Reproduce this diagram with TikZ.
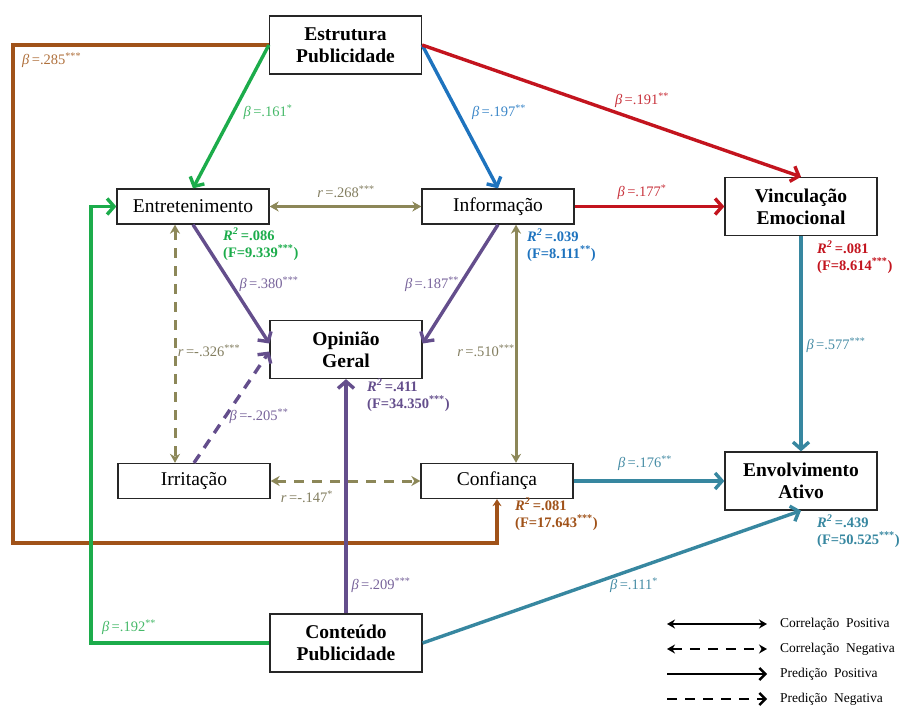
\documentclass[tikz,border=0pt]{standalone}
\usepackage{fontspec}
\setmainfont{Liberation Serif}
\usetikzlibrary{arrows.meta,calc}
\definecolor{cbrown}{RGB}{160,82,25}
\definecolor{lbrown}{RGB}{175,112,60}
\definecolor{cgreen}{RGB}{28,172,75}
\definecolor{lgreen}{RGB}{70,185,105}
\definecolor{cblue}{RGB}{30,115,190}
\definecolor{lblue}{RGB}{60,135,200}
\definecolor{cred}{RGB}{195,20,30}
\definecolor{lred}{RGB}{200,50,60}
\definecolor{colive}{RGB}{140,135,88}
\definecolor{lolive}{RGB}{130,125,95}
\definecolor{cpurple}{RGB}{100,78,140}
\definecolor{lpurple}{RGB}{120,100,155}
\definecolor{cteal}{RGB}{55,135,160}
\definecolor{lteal}{RGB}{70,140,165}
\newcommand\betalab[2]{\textit{β}\,=#1\textsuperscript{#2}}
\newcommand\rlab[2]{\textit{r}\,=#1\textsuperscript{#2}}
\newcommand\rsqlab[3]{\textbf{\textit{R\textsuperscript{2}}\,=.#1}\\\textbf{(F=#2\textsuperscript{#3})}}
\begin{document}
\begin{tikzpicture}[x=1pt,y=-1pt,
  box/.style={draw=black!85, line width=1.3pt, fill=white, minimum width=152pt, inner sep=0pt, align=center},
  tbox/.style={box, minimum height=58pt, font=\fontsize{19.5}{22}\selectfont\bfseries},
  sbox/.style={box, minimum height=35pt, font=\fontsize{19.5}{22}\selectfont},
  pred/.style={line width=3.4pt, -{Straight Barb[length=7pt,width=16pt]}},
  corr/.style={line width=3pt, {Stealth[length=9pt,width=10pt]}-{Stealth[length=9pt,width=10pt]}},
  dsh/.style={dash pattern=on 10pt off 8pt},
  lab/.style={font=\fontsize{14.5}{16}\selectfont, inner sep=0pt},
  rsq/.style={font=\fontsize{14.5}{17}\selectfont, inner sep=0pt, align=left, anchor=north west},
  leg/.style={font=\fontsize{13.5}{16}\selectfont, inner sep=0pt, anchor=west},
]
\useasboundingbox (0,0) rectangle (900,706);

% nodes
\node[tbox] (estr) at (345.5,45) {Estrutura\\Publicidade};
\node[sbox] (ent)  at (193,206.5) {Entretenimento};
\node[sbox] (info) at (498,206.5) {Informação};
\node[tbox] (vinc) at (801,206.5) {Vinculação\\Emocional};
\node[tbox] (op)   at (346,349.5) {Opinião\\Geral};
\node[sbox] (irr)  at (194,481) {Irritação};
\node[sbox] (conf) at (497,481) {Confiança};
\node[tbox] (env)  at (801,481) {Envolvimento\\Ativo};
\node[tbox] (cont) at (346,643) {Conteúdo\\Publicidade};

\coordinate (bl1) at (13,45);
\coordinate (bl2) at (13,543);
\coordinate (gx) at (91,643);

% brown
\draw[line width=3.4pt, cbrown, -{Stealth[length=7pt,width=9pt]}] (estr.west) -- (bl1) -- (bl2) -| (conf.south);
\node[lab, lbrown, anchor=west] (l285) at (22,60) {\betalab{.285}{***}};

% green
\draw[pred, cgreen] (estr.west) -- (ent.north);
\node[lab, lgreen] (l161) at (268,112) {\betalab{.161}{*}};
\draw[pred, cgreen] (cont.west) -- (gx) |- (ent.west);
\node[lab, lgreen] (l192) at (129,627) {\betalab{.192}{**}};

% blue
\draw[pred, cblue] (estr.east) -- (info.north);
\node[lab, lblue] (l197) at (499,112) {\betalab{.197}{**}};

% red
\draw[pred, cred] (estr.east) -- (vinc.north);
\node[lab, lred] (l191) at (642,100) {\betalab{.191}{**}};
\draw[pred, cred] (info.east) -- (vinc.west);
\node[lab, lred] (l177) at (642,192) {\betalab{.177}{*}};

% olive correlations
\draw[corr, colive] (ent.east) -- (info.west);
\node[lab, lolive] (l268) at (346,192) {\rlab{.268}{***}};
\draw[corr, colive, dsh] ([xshift=-18pt]ent.south) -- ([xshift=-18pt]ent.south |- irr.north);
\node[lab, lolive] (l326) at (209,351) {\rlab{-.326}{***}};
\draw[corr, colive] ([xshift=18pt]info.south) -- ([xshift=18pt]info.south |- conf.north);
\node[lab, lolive] (l510) at (486,351) {\rlab{.510}{***}};
\draw[corr, colive, dsh] (irr.east) -- (conf.west);
\node[lab, lolive] (l147) at (307,497) {\rlab{-.147}{*}};

% purple
\draw[pred, cpurple] (ent.south) -- ([yshift=6pt]op.west);
\node[lab, lpurple] (l380) at (269,284) {\betalab{.380}{***}};
\draw[pred, cpurple] (info.south) -- ([yshift=6pt]op.east);
\node[lab, lpurple] (l187) at (432,284) {\betalab{.187}{**}};
\draw[pred, cpurple, dsh] (irr.north) -- ([yshift=-2pt]op.west);
\node[lab, lpurple] (l205) at (259,416) {\betalab{-.205}{**}};
\draw[pred, cpurple] (cont.north) -- (op.south);
\node[lab, lpurple] (l209) at (381,585) {\betalab{.209}{***}};

% teal
\draw[pred, cteal] (vinc.south) -- (env.north);
\node[lab, lteal] (l577) at (836,345) {\betalab{.577}{***}};
\draw[pred, cteal] (conf.east) -- (env.west);
\node[lab, lteal] (l176) at (645,463) {\betalab{.176}{**}};
\draw[pred, cteal] (cont.east) -- (env.south);
\node[lab, lteal] (l111) at (634,585) {\betalab{.111}{*}};

% R^2 labels
\node[rsq, cgreen] (rent) at (223,228) {\rsqlab{086}{9.339}{***}};
\node[rsq, cblue] (rinfo) at (527,229) {\rsqlab{039}{8.111}{**}};
\node[rsq, cred] (rvinc) at (817,241) {\rsqlab{081}{8.614}{***}};
\node[rsq, cpurple] (rop) at (367,379) {\rsqlab{411}{34.350}{***}};
\node[rsq, cbrown] (rconf) at (515,498) {\rsqlab{081}{17.643}{***}};
\node[rsq, cteal] (renv) at (817,515) {\rsqlab{439}{50.525}{***}};

% legend
\coordinate (a1) at (667,624); \coordinate (b1) at (767,624);
\coordinate (a2) at (667,649); \coordinate (b2) at (767,649);
\coordinate (a3) at (667,674); \coordinate (b3) at (767,674);
\coordinate (a4) at (667,699); \coordinate (b4) at (767,699);
\draw[line width=2.4pt, {Stealth[length=8pt,width=9pt]}-{Stealth[length=8pt,width=9pt]}] (a1) -- (b1);
\draw[line width=2.4pt, dsh, {Stealth[length=8pt,width=9pt]}-{Stealth[length=8pt,width=9pt]}] (a2) -- (b2);
\draw[line width=2.4pt, -{Straight Barb[length=6pt,width=12pt]}] (a3) -- (b3);
\draw[line width=2.4pt, dsh, -{Straight Barb[length=6pt,width=12pt]}] (a4) -- (b4);
\node[leg] (t1) at (780,624) {Correlação\ \ Positiva};
\node[leg] (t2) at (780,649) {Correlação\ \ Negativa};
\node[leg] (t3) at (780,674) {Predição\ \ Positiva};
\node[leg] (t4) at (780,699) {Predição\ \ Negativa};
\end{tikzpicture}
\end{document}
